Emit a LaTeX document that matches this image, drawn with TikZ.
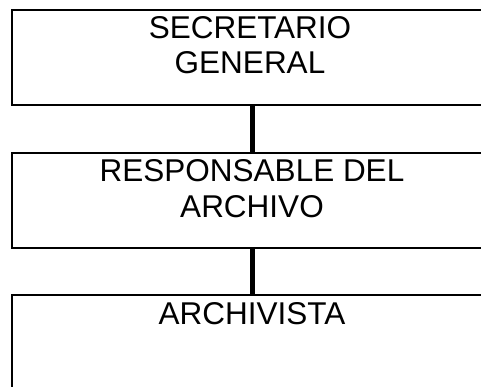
\documentclass[tikz,border=0pt]{standalone}
\usepackage{fontspec}
\setmainfont{Liberation Sans}
\begin{document}
\begin{tikzpicture}[x=1pt,y=-1pt,
  orgbox/.style={draw=black, line width=2.4pt, rectangle, minimum width=481pt, minimum height=95pt, inner sep=0pt, fill=none},
  lbl/.style={font=\fontsize{31.5}{36}\selectfont, anchor=base, inner sep=0pt},
  conn/.style={line width=5pt, draw=black}]
\useasboundingbox (0,0) rectangle (481,387);
\clip (0,0) rectangle (481,387);
\fill[white] (0,0) rectangle (481,387);
\node[orgbox] (b1) at (252.5,57.5) {};
\node[orgbox] (b2) at (252.5,200.5) {};
\node[orgbox, minimum height=140pt] (b3) at (252.5,365) {};
\node[lbl] (t1a) at (250,39) {SECRETARIO};
\node[lbl] (t1b) at (250,74) {GENERAL};
\node[lbl] (t2a) at (252,182) {RESPONSABLE DEL};
\node[lbl] (t2b) at (252,217) {ARCHIVO};
\node[lbl] (t3) at (252,324) {ARCHIVISTA};
\draw[conn] (b1.south) -- (b2.north);
\draw[conn] (b2.south) -- (b3.north);
\end{tikzpicture}
\end{document}
